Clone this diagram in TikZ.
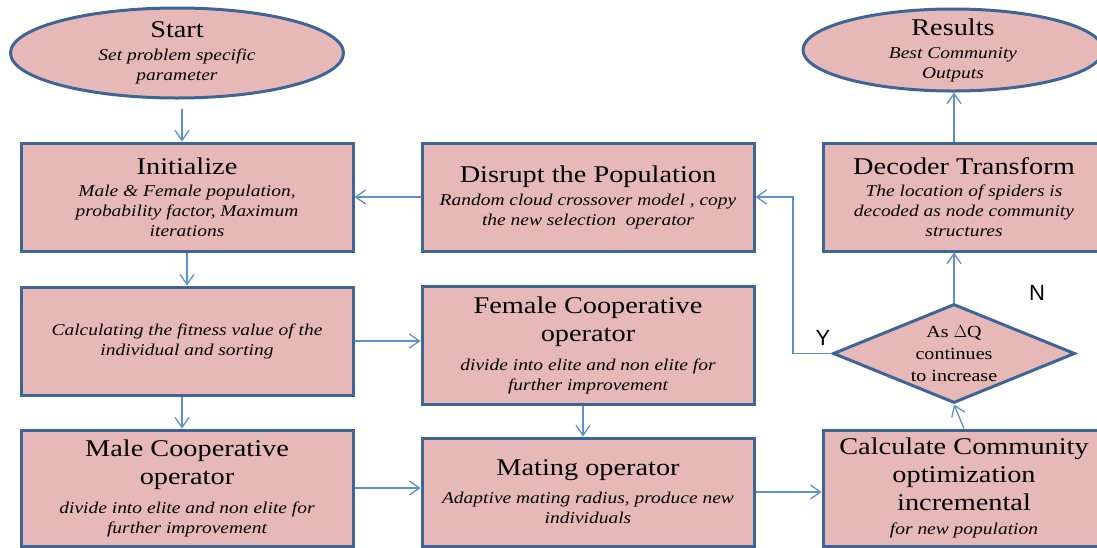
\documentclass[tikz,border=0pt]{standalone}
\usepackage{fontspec}
\setmainfont{Liberation Serif}[FakeStretch=1.18]
\newfontfamily\yesnofont{Liberation Sans}
\usetikzlibrary{shapes.geometric,arrows.meta}
\definecolor{boxfill}{HTML}{E6B9B8}
\definecolor{boxline}{HTML}{3E6595}
\definecolor{arrline}{HTML}{5E90CF}
\newcommand{\hd}{\fontsize{24}{28}\selectfont\upshape\spaceskip=0pt\xspaceskip=0pt}
\newcommand{\subtxt}{\fontsize{16.5}{20}\selectfont\itshape\spaceskip=0pt\xspaceskip=0pt}
\begin{document}
\begin{tikzpicture}[x=1pt,y=-1pt,
		stepbox/.style={draw=boxline, fill=boxfill, line width=3pt, rectangle, align=flush center, text width=320pt, inner sep=0pt},
		termin/.style={draw=boxline, fill=boxfill, line width=3pt, ellipse, align=flush center, text width=200pt, inner sep=-4pt},
		decision/.style={draw=boxline, fill=boxfill, line width=3pt, diamond, aspect=2.44, align=center, inner sep=0pt, minimum width=242pt, minimum height=99pt, font=\fontsize{17}{22}\selectfont},
		yesno/.style={font=\yesnofont\fontsize{22}{24}\selectfont},
		arr/.style={draw=arrline, line width=1.3pt, -{Straight Barb[length=10pt,width=14pt]}}]
		\useasboundingbox (0,0) rectangle (1097,547);

		% left column
		\node[termin, minimum width=333pt, minimum height=90pt] (start) at (177,53) {\hd Start\par\vspace{3pt}\subtxt Set problem specific\\ parameter\par};
		\node[stepbox, minimum width=332pt, minimum height=108pt] (init) at (187,197) {\hd Initialize\par\vspace{2pt}\subtxt Male \& Female population,\\ probability factor, Maximum\\ iterations\par};
		\node[stepbox, minimum width=332pt, minimum height=108pt] (fit) at (187,341) {\subtxt Calculating the fitness value of the\\ individual and sorting\par};
		\node[stepbox, minimum width=332pt, minimum height=116pt] (male) at (187,488) {\hd Male Cooperative\\ operator\par\vspace{9pt}\subtxt divide into elite and non elite for\\ further improvement\par};

		% middle column
		\node[stepbox, minimum width=332pt, minimum height=108pt] (disr) at (588,197) {\hd Disrupt the Population\par\vspace{3pt}\subtxt Random cloud crossover model , copy\\ the new selection\ \ operator\par};
		\node[stepbox, minimum width=332pt, minimum height=118pt] (fem) at (588,345) {\hd Female Cooperative\\ operator\par\vspace{9pt}\subtxt divide into elite and non elite for\\ further improvement\par};
		\node[stepbox, minimum width=332pt, minimum height=108pt] (mate) at (588,492) {\hd Mating operator\par\vspace{8pt}\subtxt Adaptive mating radius, produce new\\ individuals\par};

		% right column
		\node[termin, text width=160pt, minimum width=300pt, minimum height=82pt] (res) at (953,50) {\hd Results\par\vspace{3pt}\subtxt Best Community\\ Outputs\par};
		\node[stepbox, text width=270pt, minimum width=282pt, minimum height=108pt] (dec) at (964,197) {\hd Decoder Transform\par\vspace{2pt}\subtxt The location of spiders is\\ decoded as node community\\ structures\par};
		\node[decision] (dia) at (954,353.5) {As $\Delta$Q\\ continues\\ to increase};
		\node[stepbox, text width=270pt, minimum width=282pt, minimum height=116pt] (calc) at (964,488) {\hd Calculate Community\\ optimization\\ incremental\par\vspace{4pt}\subtxt for new population\par};
		\coordinate (bend) at (793,197);

		\node[yesno] (yes) at (823,338) {Y};
		\node[yesno] (no) at (1037,293) {N};

		\draw[arr, shorten <=9pt] ([xshift=-5pt]init.north |- start.south) -- ([xshift=-5pt]init.north);
		\draw[arr] (init) -- (fit);
		\draw[arr] ([xshift=-5pt]fit.south) -- ([xshift=-5pt]male.north);
		\draw[arr] (disr) -- (init);
		\draw[arr] (fit.east) -- (fit.east -| fem.west);
		\draw[arr] (male.east) -- (male.east -| mate.west);
		\draw[arr] ([xshift=-5pt]fem.south) -- ([xshift=-5pt]mate.north);
		\draw[arr] (mate.east) -- (mate.east -| calc.west);
		\draw[arr] (calc.north) -- (dia.south);
		\draw[arr] (dia.north) -- (dia.north |- dec.south);
		\draw[arr] (dia.north |- dec.north) -- (dia.north |- res.south);
		\draw[arr] (dia.west) -| (bend) -- (disr.east);
	\end{tikzpicture}
\end{document}
